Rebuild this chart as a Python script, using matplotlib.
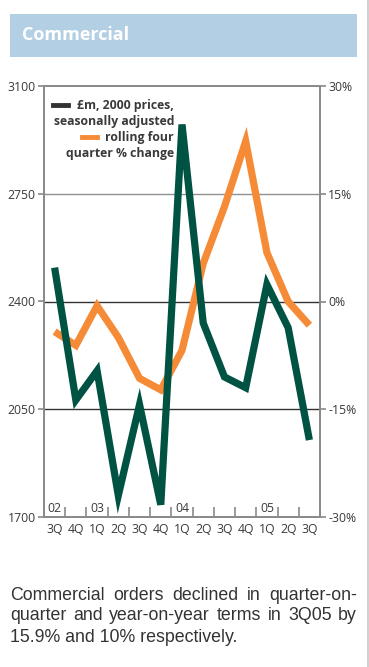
import matplotlib
matplotlib.use("Agg")
import matplotlib.pyplot as plt
from matplotlib.ticker import FixedLocator
import numpy as np

quarters = ["3Q", "4Q", "1Q", "2Q", "3Q", "4Q", "1Q", "2Q", "3Q", "4Q", "1Q", "2Q", "3Q"]
years = ["02", "03", "04", "05"]
year_pos = [0, 2, 6, 10]
orders = [2510, 2080, 2175, 1770, 2065, 1740, 2975, 2330, 2155, 2120, 2455, 2315, 1950]
pct_change = [-4.2, -6.1, -0.6, -5.0, -10.7, -12.3, -6.8, 5.3, 13.2, 22.3, 6.8, 0.0, -3.3]
left_ticks = [1700, 2050, 2400, 2750, 3100]
right_ticks = [-30, -15, 0, 15, 30]
right_labels = ["-30%", "-15%", "0%", "15%", "30%"]
title = "Commercial"
legend_1 = ["£m, 2000 prices,", "seasonally adjusted"]
legend_2 = ["rolling four", "quarter % change"]
caption_lines = [
    "Commercial orders declined in quarter-on-",
    "quarter and year-on-year terms in 3Q05 by",
    "15.9% and 10% respectively.",
]

GREEN = "#005242"
ORANGE = "#f68b37"
SPINE = "#8a8a8a"
TXT = "#3a3a3a"
W, H = 369, 667

fig = plt.figure(figsize=(W / 100, H / 100), dpi=100)
fig.patch.set_facecolor("white")

# header band
fig.patches.append(plt.Rectangle((10 / W, 1 - 57 / H), 347 / W, 43 / H,
                                 transform=fig.transFigure, facecolor="#b3cfe3",
                                 edgecolor="none"))
fig.text(22 / W, 1 - 35 / H, title, color="white", fontsize=13, fontweight="bold",
         family="Open Sans", va="center", ha="left")
# right border line
fig.lines.append(plt.Line2D([367.5 / W, 367.5 / W], [0, 1], transform=fig.transFigure,
                            color="#c8c8c8", lw=1.2))

ax = fig.add_axes([44 / W, 1 - 517 / H, 276 / W, 431 / H])
ax2 = ax.twinx()
x = np.arange(len(quarters))

ax.set_xlim(-0.5, len(quarters) - 0.5)
ax.set_ylim(left_ticks[0], left_ticks[-1])
ax2.set_ylim(right_ticks[0], right_ticks[-1])

grid_colors = ["#333333", "#333333", "#909090"]
for v, c in zip(left_ticks[1:-1], grid_colors):
    ax2.axhline(np.interp(v, [left_ticks[0], left_ticks[-1]], [right_ticks[0], right_ticks[-1]]),
                color=c, lw=1.0, zorder=1)

ax2.plot(x, pct_change, color=ORANGE, lw=5.2, solid_joinstyle="miter",
         solid_capstyle="butt", zorder=2)
ax.set_zorder(ax2.get_zorder() + 1)
ax.patch.set_visible(False)
ax.plot(x, orders, color=GREEN, lw=5.2, solid_joinstyle="miter",
        solid_capstyle="butt", zorder=3)

for a in (ax, ax2):
    for s in a.spines.values():
        s.set_color(SPINE)
        s.set_linewidth(1.3)

ax.set_yticks(left_ticks)
ax.set_yticklabels([str(v) for v in left_ticks])
ax2.set_yticks(right_ticks)
ax2.set_yticklabels(right_labels)
ax.tick_params(axis="y", direction="out", length=4, width=1.2, color=SPINE,
               labelsize=8.8, labelcolor=TXT, pad=2)
ax2.tick_params(axis="y", direction="out", length=4, width=1.2, color=SPINE,
                labelsize=8.8, labelcolor=TXT, pad=2)
for lab in ax.get_yticklabels() + ax2.get_yticklabels():
    lab.set_family("Open Sans")

ax.xaxis.set_major_locator(FixedLocator(x))
ax.set_xticklabels(quarters)
ax.xaxis.set_minor_locator(FixedLocator(np.arange(0.5, len(quarters) - 1, 1.0)))
ax.tick_params(axis="x", which="major", length=0, labelsize=8.8, labelcolor=TXT, pad=4)
ax.tick_params(axis="x", which="minor", bottom=True, direction="in", length=7,
               width=1.2, color=SPINE)
for lab in ax.get_xticklabels():
    lab.set_family("Open Sans")

for yr, p in zip(years, year_pos):
    ax.text(p, 8.5 / 431, yr, transform=ax.get_xaxis_transform(), ha="center",
            va="center", fontsize=8.8, color=TXT, family="Open Sans", zorder=5)

# legend
lx = 174 / W
for txt, yy in zip(legend_1 + legend_2, [105, 121, 137, 153]):
    fig.text(lx, 1 - yy / H, txt, ha="right", va="center", fontsize=8.8,
             fontweight="bold", color=TXT, family="Open Sans")
fig.lines.append(plt.Line2D([53 / W, 68 / W], [1 - 105 / H] * 2, transform=fig.transFigure,
                            color="#333333", lw=3.5))
fig.lines.append(plt.Line2D([82 / W, 97 / W], [1 - 137 / H] * 2, transform=fig.transFigure,
                            color=ORANGE, lw=3.5))

# justified caption
fig.canvas.draw()
renderer = fig.canvas.get_renderer()
x0, x1 = 10 / W, 357 / W
ys = [595, 616, 637]
for i, (line, yy) in enumerate(zip(caption_lines, ys)):
    if i == len(caption_lines) - 1:
        fig.text(x0, 1 - yy / H, line, ha="left", va="center", fontsize=12.8,
                 color="#333333", family="Liberation Sans")
        continue
    words = line.split(" ")
    objs = [fig.text(0, 1 - yy / H, w, ha="left", va="center", fontsize=12.8,
                     color="#333333", family="Liberation Sans") for w in words]
    widths = [o.get_window_extent(renderer).width / W for o in objs]
    gap = (x1 - x0 - sum(widths)) / (len(words) - 1)
    cx = x0
    for o, wd in zip(objs, widths):
        o.set_x(cx)
        cx += wd + gap

fig.savefig("out.png", dpi=100)
